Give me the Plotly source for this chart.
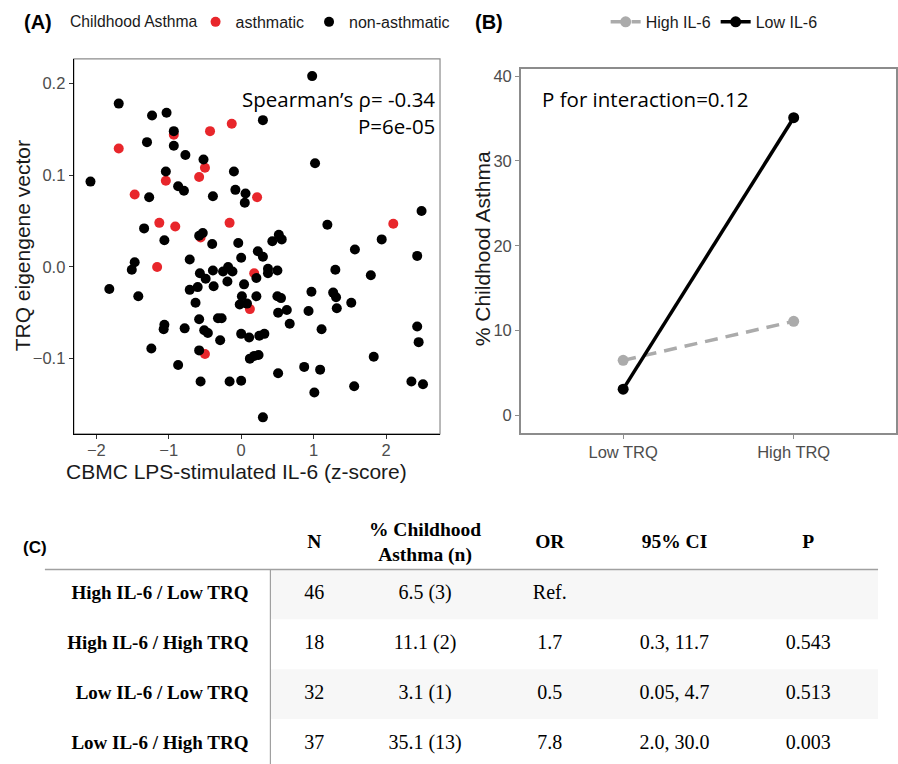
import plotly.graph_objects as go

# ---------------- DATA ----------------
# Panel A: CBMC LPS-stimulated IL-6 (z-score) vs TRQ eigengene vector
asthma_x = [-1.69, -0.93, -0.43, -0.13, -0.50, -1.04, -0.58, -1.47, 0.22, -1.13,
            -0.91, -0.16, -0.56, 2.10, -1.16, 0.18, 0.12, -0.50]
asthma_y = [0.129, 0.144, 0.148, 0.156, 0.108, 0.094, 0.098, 0.079, 0.076, 0.048,
            0.044, 0.048, 0.032, 0.047, 0.000, -0.007, -0.046, -0.095]

non_x = [-2.08, -1.69, -1.23, -1.03, -1.30, -0.93, -0.93, -0.77, -0.52, -1.04,
         -0.10, -0.87, -0.79, -1.27, -0.39, -0.08, 0.06, 0.05, -1.34, -0.53,
         -0.58, -1.06, -0.40, -0.04,
         0.98, 0.30, 1.02, 2.49, 1.19, 0.43, 0.52, 0.56, 1.94, 1.57, 0.23,
         0.00, -1.47, -1.51, -0.71, -1.82, -1.42, -0.57, -0.39, -0.49, -0.25,
         -0.18, -0.12, -0.19, -0.38, -0.60, -0.71, 0.21, 0.04, 0.21, 0.01,
         -0.02, 0.08, -0.63, -0.58, -0.32, -0.27, -1.06, -1.07, -0.78, -0.51,
         -0.46, -0.29, 0.00, 0.11, -1.24, -0.58, -0.87, 0.12, 0.18, -0.56,
         -0.16, 0.00,
         2.43, 0.30, 0.37, 0.37, 0.50, 1.30, 1.79, 0.97, 1.27, 1.31, 1.52,
         0.50, 0.55, 0.51, 0.63, 0.93, 1.32, 0.67, 1.11, 2.43, 2.45, 0.25,
         0.32, 1.83, 0.24, 0.87, 1.09, 0.51, 1.56, 2.35, 2.51, 1.01, 0.30]
non_y = [0.093, 0.178, 0.165, 0.168, 0.136, 0.148, 0.132, 0.122, 0.117, 0.104,
         0.104, 0.088, 0.083, 0.076, 0.077, 0.084, 0.080, 0.070, 0.042, 0.037,
         0.034, 0.029, 0.025, 0.026,
         0.208, 0.160, 0.113, 0.061, 0.046, 0.028, 0.035, 0.030, 0.030, 0.019, 0.017,
         0.010, 0.005, -0.003, 0.008, -0.024, -0.032, -0.007, -0.004, -0.013, -0.005,
         0.000, -0.005, -0.016, -0.021, -0.022, -0.025, -0.012, -0.019, -0.032, -0.032,
         -0.041, -0.040, -0.039, -0.057, -0.056, -0.056, -0.063, -0.068, -0.067, -0.069,
         -0.072, -0.080, -0.073, -0.077, -0.089, -0.091, -0.107, -0.100, -0.097, -0.125,
         -0.125, -0.124,
         0.012, 0.011, -0.002, -0.007, -0.004, -0.003, -0.009, -0.027, -0.028, -0.033, -0.039,
         -0.032, -0.034, -0.050, -0.047, -0.048, -0.045, -0.062, -0.068, -0.065, -0.082, -0.075,
         -0.073, -0.098, -0.096, -0.109, -0.112, -0.116, -0.130, -0.125, -0.128, -0.137, -0.164]

a_xticks = [-2, -1, 0, 1, 2]
a_yticks = [-0.1, 0.0, 0.1, 0.2]

# Panel B: % childhood asthma by TRQ and IL-6 group
trq_cats = ["Low TRQ", "High TRQ"]
high_il6 = [6.5, 11.1]
low_il6 = [3.1, 35.1]
b_yticks = [0, 10, 20, 30, 40]

# Panel C: table
header_vals = ["N", "% Childhood<br>Asthma (n)", "OR", "95% CI", "P"]
row_labels = ["High IL-6 / Low TRQ", "High IL-6 / High TRQ",
              "Low IL-6 / Low TRQ", "Low IL-6 / High TRQ"]
n_vals = ["46", "18", "32", "37"]
pct_vals = ["6.5 (3)", "11.1 (2)", "3.1 (1)", "35.1 (13)"]
or_vals = ["Ref.", "1.7", "0.5", "7.8"]
ci_vals = ["", "0.3, 11.7", "0.05, 4.7", "2.0, 30.0"]
p_vals = ["", "0.543", "0.513", "0.003"]

# ---------------- LAYOUT CONSTANTS ----------------
W, H = 898, 764
SANS = "Liberation Sans, Arial, sans-serif"
MYR = "Open Sans, sans-serif"
SERIF = "Liberation Serif, Times New Roman, serif"
TICKC = "#4d4d4d"
TITLEC = "#1a1a1a"
RED = "#e8262b"
GRAY = "#ababab"

def px(xp):
    return xp / W

def py(yp):
    return (H - yp) / H

fig = go.Figure()

# Panel A
fig.add_trace(go.Scatter(x=asthma_x, y=asthma_y, mode="markers", name="asthmatic",
                         marker=dict(color=RED, size=10), xaxis="x", yaxis="y",
                         legend="legend"))
fig.add_trace(go.Scatter(x=non_x, y=non_y, mode="markers", name="non-asthmatic",
                         marker=dict(color="black", size=10), xaxis="x", yaxis="y",
                         legend="legend"))

# Panel B
fig.add_trace(go.Scatter(x=trq_cats, y=high_il6, mode="lines+markers", name="High IL-6",
                         line=dict(color=GRAY, width=3.5, dash="13px,8px"),
                         marker=dict(color=GRAY, size=11), xaxis="x2", yaxis="y2",
                         legend="legend2"))
fig.add_trace(go.Scatter(x=trq_cats, y=low_il6, mode="lines+markers", name="Low IL-6",
                         line=dict(color="black", width=3.5),
                         marker=dict(color="black", size=11), xaxis="x2", yaxis="y2",
                         legend="legend2"))

# Panel C table (drawn on a pixel-scaled helper axis)
hdr_bottom = 569
row_h = 50
col_x = [315, 426, 551, 676, 810]
row_y = [hdr_bottom + (i + 0.5) * row_h for i in range(len(row_labels))]
hdr_y = [543] * len(header_vals)

fig.add_trace(go.Scatter(x=col_x, y=hdr_y, mode="text",
                         text=["<b>%s</b>" % h for h in header_vals],
                         textposition="middle center",
                         textfont=dict(family=SERIF, size=19.5, color="black"),
                         xaxis="x3", yaxis="y3", showlegend=False, hoverinfo="skip"))
fig.add_trace(go.Scatter(x=[249] * len(row_labels), y=row_y, mode="text",
                         text=["<b>%s</b>" % r for r in row_labels],
                         textposition="middle left",
                         textfont=dict(family=SERIF, size=19, color="black"),
                         xaxis="x3", yaxis="y3", showlegend=False, hoverinfo="skip"))
for cx, vals in zip(col_x, [n_vals, pct_vals, or_vals, ci_vals, p_vals]):
    fig.add_trace(go.Scatter(x=[cx] * len(vals), y=row_y, mode="text", text=vals,
                             textposition="middle center",
                             textfont=dict(family=SERIF, size=20, color="black"),
                             xaxis="x3", yaxis="y3", showlegend=False, hoverinfo="skip"))

shapes = []
for i in range(len(row_labels)):
    if i % 2 == 0:
        shapes.append(dict(type="rect", xref="x3", yref="y3", x0=271, x1=880,
                           y0=hdr_bottom + i * row_h, y1=hdr_bottom + (i + 1) * row_h,
                           fillcolor="#f7f7f7", line=dict(width=0), layer="below"))
shapes.append(dict(type="line", xref="x3", yref="y3", x0=45, x1=880,
                   y0=hdr_bottom, y1=hdr_bottom, line=dict(color="#a0a0a0", width=1.5)))
shapes.append(dict(type="line", xref="x3", yref="y3", x0=271, x1=271,
                   y0=hdr_bottom, y1=H, line=dict(color="#a0a0a0", width=1.2)))
# Panel A gray border (top/right)
shapes.append(dict(type="rect", xref="x domain", yref="y domain", x0=0, x1=1, y0=0, y1=1,
                   line=dict(color="#8c8c8c", width=1.2), layer="below"))

annotations = [
    dict(text="<b>(A)</b>", x=px(22), y=py(20), xref="paper", yref="paper",
         xanchor="left", yanchor="middle", showarrow=False,
         font=dict(family=SANS, size=20, color="black")),
    dict(text="<b>(B)</b>", x=px(474), y=py(20), xref="paper", yref="paper",
         xanchor="left", yanchor="middle", showarrow=False,
         font=dict(family=SANS, size=20, color="black")),
    dict(text="<b>(C)</b>", x=px(21), y=py(547), xref="paper", yref="paper",
         xanchor="left", yanchor="middle", showarrow=False,
         font=dict(family=SANS, size=17, color="black")),
    dict(text="Childhood Asthma", x=px(68), y=py(20), xref="paper", yref="paper",
         xanchor="left", yanchor="middle", showarrow=False,
         font=dict(family=SANS, size=15.7, color=TITLEC)),
    dict(text="Spearman\u2019s \u03c1= -0.34", x=px(438), y=py(97), xref="paper", yref="paper",
         xanchor="right", yanchor="middle", showarrow=False,
         font=dict(family=MYR, size=20.5, color="black")),
    dict(text="P=6e-05", x=px(438), y=py(124), xref="paper", yref="paper",
         xanchor="right", yanchor="middle", showarrow=False,
         font=dict(family=MYR, size=20.5, color="black")),
    dict(text="P for interaction=0.12", x=px(541), y=py(97), xref="paper", yref="paper",
         xanchor="left", yanchor="middle", showarrow=False,
         font=dict(family=MYR, size=20.5, color="black")),
    dict(text="TRQ eigengene vector", x=px(22), y=py(244), xref="paper", yref="paper",
         xanchor="center", yanchor="middle", textangle=-90, showarrow=False,
         font=dict(family=SANS, size=21, color=TITLEC)),
    dict(text="CBMC LPS-stimulated IL-6 (z-score)", x=px(237), y=py(471), xref="paper",
         yref="paper", xanchor="center", yanchor="middle", showarrow=False,
         font=dict(family=SANS, size=21, color=TITLEC)),
    dict(text="% Childhood Asthma", x=px(483), y=py(247), xref="paper", yref="paper",
         xanchor="center", yanchor="middle", textangle=-90, showarrow=False,
         font=dict(family=SANS, size=21, color=TITLEC)),
]

fig.update_layout(
    width=W, height=H, margin=dict(l=0, r=0, t=0, b=0),
    paper_bgcolor="white", plot_bgcolor="white",
    font=dict(family=SANS, color=TICKC),
    xaxis=dict(domain=[px(74), px(441)], range=[-2.31, 2.745], tickvals=a_xticks,
               showgrid=False, zeroline=False, showline=True, linecolor="black",
               linewidth=1.3, ticks="outside", ticklen=4, tickcolor="#333",
               ticklabelstandoff=-3,
               tickfont=dict(family=SANS, size=16.5, color=TICKC), anchor="y"),
    yaxis=dict(domain=[py(433), py(57)], range=[-0.182, 0.2268], tickvals=a_yticks,
               tickformat=".1f", showgrid=False, zeroline=False, showline=True,
               linecolor="black", linewidth=1.3, ticks="outside", ticklen=4,
               tickcolor="#333", tickfont=dict(family=SANS, size=16.5, color=TICKC),
               anchor="x"),
    xaxis2=dict(domain=[px(522), 1.0], range=[-0.6, 1.6], type="category",
                categoryorder="array", categoryarray=trq_cats,
                showgrid=False, zeroline=False, showline=True, mirror=True,
                linecolor="#8c8c8c", linewidth=1.5, ticks="outside", ticklen=4,
                tickcolor="#8c8c8c", tickfont=dict(family=SANS, size=16.5, color=TICKC),
                anchor="y2"),
    yaxis2=dict(domain=[py(432), py(67)], range=[-2.05, 40.86], tickvals=b_yticks,
                showgrid=False, zeroline=False, showline=True, mirror=True,
                linecolor="#8c8c8c", linewidth=1.5, ticks="outside", ticklen=4,
                tickcolor="#8c8c8c", tickfont=dict(family=SANS, size=16.5, color=TICKC),
                anchor="x2"),
    xaxis3=dict(domain=[0, 1], range=[0, W], visible=False, anchor="y3", fixedrange=True),
    yaxis3=dict(domain=[0, py(510)], range=[H, 510], visible=False, anchor="x3",
                fixedrange=True),
    legend=dict(orientation="h", x=px(196), y=py(20), xanchor="left", yanchor="middle",
                font=dict(family=SANS, size=16, color=TITLEC),
                bgcolor="rgba(0,0,0,0)", tracegroupgap=0, itemwidth=30),
    legend2=dict(orientation="h", x=px(607), y=py(20), xanchor="left", yanchor="middle",
                 font=dict(family=SANS, size=16, color=TITLEC),
                 bgcolor="rgba(0,0,0,0)", itemwidth=30),
    shapes=shapes,
    annotations=annotations,
)

fig.write_html("out.html")
